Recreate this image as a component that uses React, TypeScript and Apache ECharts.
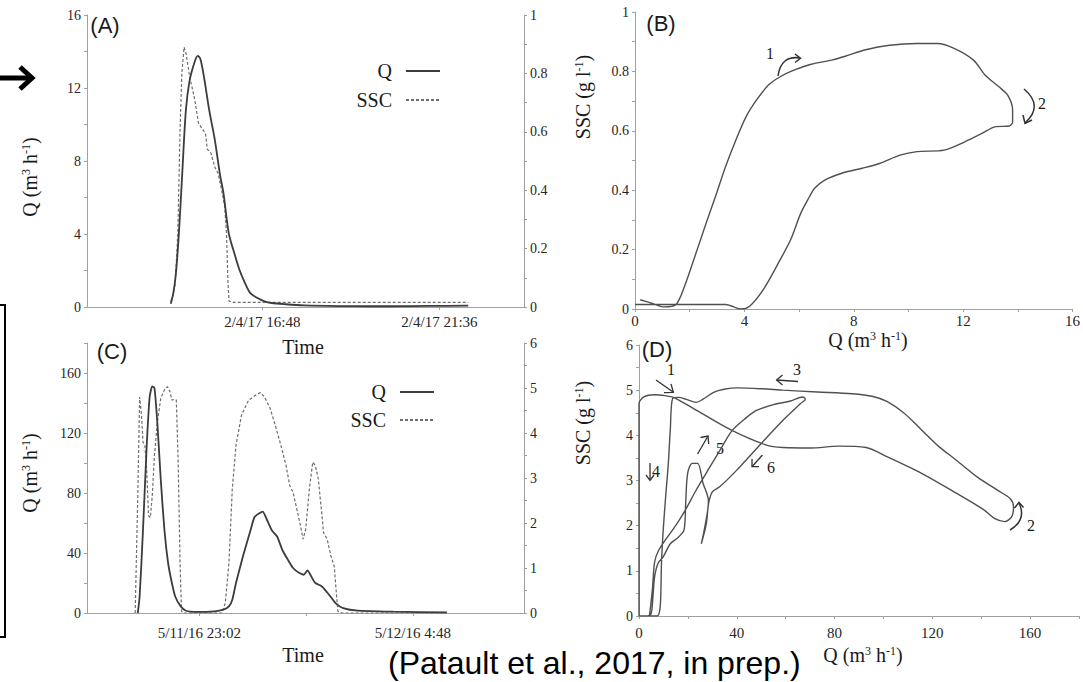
import { useEffect, useRef } from "react";
import * as echarts from "echarts";

const SERIF = "'Liberation Serif', 'Times New Roman', serif";
const SANS = "'Liberation Sans', Arial, sans-serif";

// ---------- Panel A (time in hours since axis start ~12:03) ----------
const A_TIME_TICKS = [4.75, 9.55];
const A_TIME_LABELS = ["2/4/17 16:48", "2/4/17 21:36"];
const A_Q_T = [2.27, 2.34, 2.41, 2.49, 2.58, 2.68, 2.78, 2.92, 3.0, 3.07, 3.17, 3.31, 3.46, 3.6, 3.7, 3.84, 3.99, 4.13, 4.28, 4.42, 4.62, 4.81, 5.0, 5.39, 5.88, 6.84, 7.6, 8.3, 9.26, 10.33];
const A_Q_V = [0.18, 0.77, 1.86, 4.05, 7.3, 10.8, 12.4, 13.45, 13.76, 13.6, 12.6, 10.8, 9.2, 7.3, 6.2, 4.05, 2.96, 2.04, 1.31, 0.77, 0.49, 0.31, 0.22, 0.15, 0.09, 0.05, 0.04, 0.04, 0.06, 0.07];
const A_SSC_T = [2.27, 2.32, 2.39, 2.46, 2.52, 2.57, 2.63, 2.68, 2.78, 2.92, 3.02, 3.12, 3.21, 3.26, 3.36, 3.46, 3.55, 3.65, 3.73, 3.78, 3.82, 3.85, 3.94, 10.33];
const A_SSC_V = [0.02, 0.036, 0.08, 0.25, 0.6, 0.8, 0.89, 0.87, 0.79, 0.71, 0.63, 0.61, 0.595, 0.54, 0.527, 0.48, 0.458, 0.4, 0.344, 0.253, 0.082, 0.02, 0.016, 0.016];

// ---------- Panel B (Q vs SSC loop) ----------
const B_Q = [0.19, 0.6, 1.06, 1.5, 1.81, 2.19, 2.56, 2.94, 3.31, 3.69, 4.06, 4.44, 4.88, 5.31, 5.81, 6.44, 7.19, 7.69, 8.44, 9.31, 10.31, 11.06, 11.69, 12.38, 12.81, 13.31, 13.63, 13.81, 13.81, 13.69, 13.19, 12.69, 12.06, 11.31, 10.31, 9.69, 8.94, 8.31, 7.56, 6.94, 6.56, 6.38, 6.06, 5.69, 5.31, 4.69, 4.19, 3.88, 3.5, 3.31, 2.0, 0.0];
const B_SSC = [0.031, 0.02, 0.007, 0.015, 0.076, 0.177, 0.278, 0.378, 0.479, 0.569, 0.647, 0.703, 0.754, 0.782, 0.804, 0.824, 0.838, 0.851, 0.873, 0.888, 0.894, 0.894, 0.877, 0.838, 0.787, 0.748, 0.72, 0.67, 0.63, 0.616, 0.614, 0.591, 0.563, 0.535, 0.53, 0.518, 0.49, 0.474, 0.457, 0.434, 0.406, 0.378, 0.322, 0.233, 0.166, 0.065, 0.009, 0.0, 0.011, 0.015, 0.015, 0.015];

// ---------- Panel C (time in hours since axis start 20:00) ----------
const C_TIME_TICKS = [3.03, 5.91, 8.79];
const C_LABEL_TICKS = [3.03, 8.79];
const C_TIME_LABELS = ["5/11/16 23:02", "5/12/16 4:48"];
const C_Q_T = [1.37, 1.42, 1.51, 1.61, 1.69, 1.76, 1.82, 1.9, 1.99, 2.09, 2.19, 2.29, 2.38, 2.53, 2.67, 2.96, 3.44, 3.68, 3.83, 3.92, 4.02, 4.21, 4.41, 4.52, 4.65, 4.74, 4.84, 4.99, 5.13, 5.27, 5.42, 5.56, 5.71, 5.85, 5.95, 6.05, 6.16, 6.34, 6.53, 6.72, 6.91, 7.3, 8.26, 9.71];
const C_Q_V = [0, 11, 55, 111, 144, 151, 150, 126, 89, 55, 33, 20, 11, 4.4, 1.5, 0.7, 1.1, 2.2, 4.4, 8.9, 20, 38, 55, 64, 66.5, 67.6, 63, 55, 51, 42, 35.5, 30, 27, 25.5, 28.4, 24.4, 20, 17.7, 12.2, 6.2, 3.3, 1.6, 0.9, 0.4];
const C_SSC_T = [1.3, 1.37, 1.42, 1.47, 1.51, 1.56, 1.61, 1.66, 1.71, 1.76, 1.82, 1.9, 1.99, 2.09, 2.17, 2.24, 2.29, 2.36, 2.41, 2.46, 2.51, 2.55, 2.62, 3.64, 3.73, 3.83, 3.92, 4.02, 4.17, 4.36, 4.55, 4.68, 4.79, 4.94, 5.08, 5.23, 5.37, 5.47, 5.56, 5.66, 5.76, 5.83, 5.9, 6.0, 6.09, 6.16, 6.24, 6.34, 6.38, 6.48, 6.58, 6.67, 6.72, 6.77, 6.87, 9.71];
const C_SSC_V = [0, 2.6, 4.8, 4.4, 3.8, 3.73, 3.2, 2.16, 2.12, 2.6, 3.5, 4.25, 4.77, 4.96, 5.03, 4.92, 4.73, 4.75, 4.73, 3.35, 1.12, 0.04, 0, 0, 0.22, 1.12, 2.76, 3.73, 4.4, 4.73, 4.84, 4.9, 4.8, 4.55, 4.17, 3.73, 3.28, 2.83, 2.68, 2.31, 1.94, 1.64, 1.86, 2.76, 3.35, 3.28, 2.98, 2.16, 1.79, 1.64, 1.27, 1.04, 0.52, 0.04, 0, 0];

// ---------- Panel D (Q vs SSC loops) ----------
const D_Q = [0, 0, 0, 2, 6.4, 10.6, 13.5, 16.3, 23.4, 37.6, 51.8, 58.9, 70.2, 81.6, 92.9, 101.4, 115.6, 129.8, 141.1, 145.4, 149.6, 152.5, 153.2, 151.8, 146.8, 138.3, 129.8, 122.7, 115.6, 108.5, 101.4, 95.7, 87.2, 73, 58.9, 50.4, 40.4, 34.8, 30.5, 26.2, 23.4, 19.1, 16.3, 13.8, 12.8, 12, 10.9, 9.9, 9.2, 8.9, 8.5, 7.5,
  4.3, 5.5, 6.4, 8, 11, 15, 19, 23.4, 29, 34, 38, 43, 48, 55, 62, 67, 68, 66, 59, 50, 40, 33, 30, 28.5, 27.7, 27, 26, 25.5, 26.5, 28, 28.4, 26.2, 24, 21.8, 19.9, 19.1, 18.4, 15.6, 12.8, 9.9, 7.8, 6.4, 5.7, 5, 3.5, 0];
const D_SSC = [0, 2.5, 4.7, 4.85, 4.9, 4.88, 4.85, 4.78, 4.56, 4.12, 3.79, 3.73, 3.72, 3.76, 3.73, 3.53, 3.16, 2.72, 2.35, 2.16, 2.09, 2.2, 2.42, 2.6, 2.78, 3.08, 3.45, 3.75, 4.12, 4.49, 4.75, 4.86, 4.92, 4.96, 5.0, 5.03, 5.05, 5.02, 4.95, 4.8, 4.73, 4.8, 4.84, 4.82, 4.12, 3.38, 2.64, 1.9, 1.17, 0.43, 0.13, 0,
  0, 0.6, 1.2, 1.45, 1.7, 2.0, 2.35, 2.79, 3.3, 3.75, 4.1, 4.35, 4.55, 4.68, 4.76, 4.85, 4.8, 4.7, 4.34, 3.82, 3.23, 2.86, 2.75, 2.5, 2.1, 1.9, 1.7, 1.6, 1.85, 2.3, 2.55, 2.94, 3.38, 3.38, 3.16, 2.5, 1.9, 1.72, 1.6, 1.31, 1.17, 0.87, 0.43, 0.06, 0, 0];

const zip = (a: number[], b: number[]) => a.map((v, i) => [v, b[i]]);

const AXIS_COLOR = "#a0a0a0";
const LABEL_COLOR = "#262626";
const Q_COLOR = "#3c3c3c";
const SSC_COLOR = "#6e6e6e";
const LOOP_COLOR = "#505050";

const fmtNum = (v: number) => String(Math.round(v * 10) / 10);
const majorOnly = (major: number) => (v: number) =>
  Math.abs(v / major - Math.round(v / major)) < 1e-6 ? fmtNum(v) : "";

const axisBase = {
  axisLine: { show: true, lineStyle: { color: AXIS_COLOR, width: 1 } },
  axisTick: { show: true, length: 3, lineStyle: { color: AXIS_COLOR } },
  splitLine: { show: false },
};

const valueAxis = (gridIndex: number, min: number, max: number, interval: number, major: number, extra: any = {}) => ({
  type: "value",
  gridIndex,
  min,
  max,
  interval,
  ...axisBase,
  axisLabel: {
    formatter: majorOnly(major),
    fontFamily: SERIF,
    fontSize: 14,
    color: LABEL_COLOR,
    margin: 6,
    ...(extra.axisLabel || {}),
  },
});

function txt(x: number, y: number, text: string, font: string, size: number, extra: any = {}) {
  return {
    type: "text",
    x,
    y,
    silent: true,
    ...(extra.el || {}),
    style: {
      text,
      fontFamily: font,
      fontSize: size,
      fill: "#1a1a1a",
      align: "center",
      verticalAlign: "middle",
      ...(extra.style || {}),
    },
  };
}

const supRich = { sup: { fontSize: 12, verticalAlign: "top", fontFamily: SERIF, fill: "#1a1a1a" } };

function ytitle(x: number, y: number, text: string) {
  return txt(x, y, text, SERIF, 20, { el: { rotation: Math.PI / 2 }, style: { rich: supRich } });
}

function poly(points: number[][], width = 1.3, color = "#333") {
  return {
    type: "polyline",
    silent: true,
    shape: { points },
    style: { stroke: color, lineWidth: width, fill: null },
  };
}

function curve(x1: number, y1: number, cpx1: number, cpy1: number, x2: number, y2: number) {
  return {
    type: "bezierCurve",
    silent: true,
    shape: { x1, y1, cpx1, cpy1, x2, y2 },
    style: { stroke: "#333", lineWidth: 1.5, fill: null },
  };
}

function legendItem(name: string, right: number, top: number) {
  return {
    data: [name],
    orient: "horizontal",
    align: "right",
    right,
    top,
    padding: 0,
    itemWidth: 34,
    itemHeight: 10,
    selectedMode: false,
    itemStyle: { opacity: 0 },
    textStyle: { fontFamily: SERIF, fontSize: 20, color: "#1a1a1a", padding: [0, 9, 0, 0] },
  };
}

export default function App() {
  const ref = useRef<HTMLDivElement>(null);

  useEffect(() => {
    if (!ref.current) return;
    const chart = echarts.init(ref.current, null, { renderer: "svg" });

    const timeLabel = (ticks: number[], labels: string[]) => (v: number) => {
      const i = ticks.findIndex((t) => Math.abs(t - v) < 1e-6);
      return i >= 0 ? labels[i] : "";
    };

    const option: any = {
      animation: false,
      backgroundColor: "#ffffff",
      textStyle: { fontFamily: SERIF },
      grid: [
        { left: 87, top: 15, width: 437, height: 292 },
        { left: 635, top: 12, width: 443, height: 297 },
        { left: 87, top: 343, width: 437, height: 270 },
        { left: 639, top: 345, width: 440, height: 271 },
      ],
      legend: [
        legendItem("Q", 1083 - 441, 61),
        legendItem("SSC", 1083 - 441, 90),
        legendItem("Q", 1083 - 435, 382),
        legendItem("SSC", 1083 - 435, 410),
      ],
      xAxis: [
        {
          type: "value",
          gridIndex: 0,
          min: 0,
          max: 11.84,
          ...axisBase,
          axisTick: { ...axisBase.axisTick, customValues: A_TIME_TICKS },
          axisLabel: {
            customValues: A_TIME_TICKS,
            formatter: timeLabel(A_TIME_TICKS, A_TIME_LABELS),
            fontFamily: SERIF,
            fontSize: 15,
            color: LABEL_COLOR,
            margin: 7,
          },
        },
        valueAxis(1, 0, 16, 2, 4, { axisLabel: { margin: 4, fontSize: 15 } }),
        {
          type: "value",
          gridIndex: 2,
          min: 0,
          max: 11.79,
          ...axisBase,
          axisTick: { ...axisBase.axisTick, customValues: C_TIME_TICKS },
          axisLabel: {
            customValues: C_LABEL_TICKS,
            formatter: timeLabel(C_LABEL_TICKS, C_TIME_LABELS),
            fontFamily: SERIF,
            fontSize: 15,
            color: LABEL_COLOR,
            margin: 12,
          },
        },
        valueAxis(3, 0, 180, 20, 40, { axisLabel: { margin: 9, fontSize: 15 } }),
      ],
      yAxis: [
        valueAxis(0, 0, 16, 2, 4),
        { ...valueAxis(0, 0, 1, 0.1, 0.2), position: "right" },
        valueAxis(1, 0, 1, 0.1, 0.2),
        valueAxis(2, 0, 180, 20, 40),
        { ...valueAxis(2, 0, 6, 0.5, 1), position: "right" },
        valueAxis(3, 0, 6, 0.5, 1),
      ],
      series: [
        {
          name: "Q",
          type: "line",
          xAxisIndex: 0,
          yAxisIndex: 0,
          data: zip(A_Q_T, A_Q_V),
          symbol: "none",
          smooth: 0.3,
          lineStyle: { color: Q_COLOR, width: 1.8 },
          itemStyle: { color: Q_COLOR },
          z: 3,
        },
        {
          name: "SSC",
          type: "line",
          xAxisIndex: 0,
          yAxisIndex: 1,
          data: zip(A_SSC_T, A_SSC_V),
          symbol: "none",
          lineStyle: { color: SSC_COLOR, width: 1.2, type: [3, 2] },
          itemStyle: { color: SSC_COLOR },
          z: 2,
        },
        {
          name: "B loop",
          type: "line",
          xAxisIndex: 1,
          yAxisIndex: 2,
          data: zip(B_Q, B_SSC),
          symbol: "none",
          smooth: 0.3,
          lineStyle: { color: LOOP_COLOR, width: 1.4 },
          itemStyle: { color: LOOP_COLOR },
        },
        {
          name: "Q",
          type: "line",
          xAxisIndex: 2,
          yAxisIndex: 3,
          data: zip(C_Q_T, C_Q_V),
          symbol: "none",
          smooth: 0.2,
          lineStyle: { color: Q_COLOR, width: 1.8 },
          itemStyle: { color: Q_COLOR },
          z: 3,
        },
        {
          name: "SSC",
          type: "line",
          xAxisIndex: 2,
          yAxisIndex: 4,
          data: zip(C_SSC_T, C_SSC_V),
          symbol: "none",
          lineStyle: { color: SSC_COLOR, width: 1.2, type: [3, 2] },
          itemStyle: { color: SSC_COLOR },
          z: 2,
        },
        {
          name: "D loop",
          type: "line",
          xAxisIndex: 3,
          yAxisIndex: 5,
          data: zip(D_Q, D_SSC),
          symbol: "none",
          smooth: 0.3,
          lineStyle: { color: LOOP_COLOR, width: 1.4 },
          itemStyle: { color: LOOP_COLOR },
        },
      ],
      graphic: [
        // panel letters
        txt(105, 25, "(A)", SANS, 22),
        txt(661, 23, "(B)", SANS, 22),
        txt(112, 351, "(C)", SANS, 22),
        txt(657, 349, "(D)", SANS, 22),
        // axis titles
        ytitle(30, 177, "Q (m{sup|3} h{sup|-1})"),
        ytitle(30, 473, "Q (m{sup|3} h{sup|-1})"),
        ytitle(583, 97, "SSC (g l{sup|-1})"),
        ytitle(583, 423, "SSC (g l{sup|-1})"),
        txt(303, 347, "Time", SERIF, 20),
        txt(303, 655, "Time", SERIF, 20),
        txt(868, 340, "Q (m{sup|3} h{sup|-1})", SERIF, 20, { style: { rich: supRich } }),
        txt(863, 655, "Q (m{sup|3} h{sup|-1})", SERIF, 20, { style: { rich: supRich } }),
        // annotations B
        txt(770, 53, "1", SERIF, 16),
        curve(778, 76, 781, 55, 800, 58),
        poly([[795, 54], [800.5, 58.3], [795, 62.5]], 1.5),
        txt(1042, 103, "2", SERIF, 16),
        curve(1024, 89, 1044, 106, 1025, 123),
        poly([[1023, 115], [1025, 123.5], [1032, 120]], 1.5),
        // annotations D
        txt(671, 369, "1", SERIF, 16),
        poly([[656, 380], [673.4, 392.3]], 1.3),
        poly([[664, 392.6], [673.4, 392.3], [671, 384]], 1.3),
        txt(797, 369, "3", SERIF, 16),
        poly([[798, 381.5], [776.6, 380]], 1.3),
        poly([[782.5, 375], [776.6, 380], [782.5, 385]], 1.3),
        txt(1031, 525, "2", SERIF, 16),
        curve(1010, 530, 1027, 520, 1019, 503),
        poly([[1014.5, 508], [1019, 502.5], [1023.5, 507.5]], 1.5),
        txt(656, 471, "4", SERIF, 16),
        poly([[650, 463], [650, 480]], 1.3),
        poly([[646, 475], [650, 480.5], [654, 475]], 1.3),
        txt(720, 448, "5", SERIF, 16),
        poly([[697.6, 454], [708, 436]], 1.3),
        poly([[700.5, 437.5], [708, 436], [708.7, 444]], 1.3),
        txt(771, 467, "6", SERIF, 16),
        poly([[762.4, 455], [752, 466.7]], 1.3),
        poly([[752, 459], [752, 466.7], [759, 466.7]], 1.3),
        // slide artefacts: arrow and box edge at left
        poly([[0, 78], [29, 78]], 5, "#000"),
        poly([[20, 67], [32, 78], [20, 89]], 5, "#000"),
        poly([[0, 305], [5, 305], [5, 637], [0, 637]], 2, "#000"),
        // caption
        txt(388, 663, "(Patault et al., 2017, in prep.)", SANS, 32, { style: { align: "left", fill: "#000" } }),
      ],
    };

    chart.setOption(option);
    return () => chart.dispose();
  }, []);

  return (
    <div
      ref={ref}
      style={{ position: "absolute", left: 0, top: 0, width: 1083, height: 682, background: "#fff" }}
    />
  );
}
